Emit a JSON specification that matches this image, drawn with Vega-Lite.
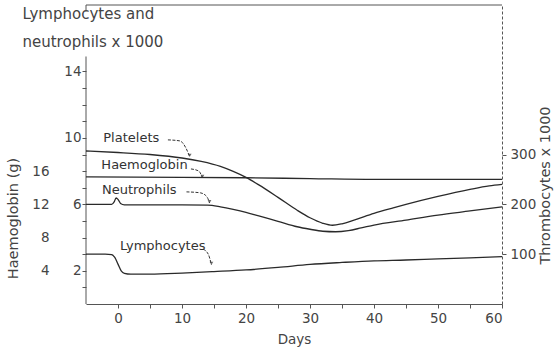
{
  "$schema": "https://vega.github.io/schema/vega-lite/v6.json",
  "width": 416,
  "height": 299,
  "autosize": "none",
  "padding": {"left": 86, "top": 5, "right": 56, "bottom": 47},
  "background": "white",
  "config": {
    "view": {"stroke": null},
    "font": "DejaVu Sans",
    "axis": {"labelFont": "DejaVu Sans", "titleFont": "DejaVu Sans", "labelColor": "#444", "titleColor": "#444", "titleFontWeight": "normal", "labelFontSize": 13.5, "titleFontSize": 14.5, "domainColor": "#555", "tickColor": "#555", "grid": false}
  },
  "datasets": {
    "cells": [
      {"series": "Neutrophils", "day": -5, "v": 6.0},
      {"series": "Neutrophils", "day": -2, "v": 6.0},
      {"series": "Neutrophils", "day": -1, "v": 6.0},
      {"series": "Neutrophils", "day": -0.6, "v": 6.15},
      {"series": "Neutrophils", "day": -0.3, "v": 6.38},
      {"series": "Neutrophils", "day": 0, "v": 6.3},
      {"series": "Neutrophils", "day": 0.4, "v": 6.05},
      {"series": "Neutrophils", "day": 1, "v": 5.97},
      {"series": "Neutrophils", "day": 5, "v": 5.97},
      {"series": "Neutrophils", "day": 10, "v": 5.97},
      {"series": "Neutrophils", "day": 14, "v": 5.95},
      {"series": "Neutrophils", "day": 16, "v": 5.85},
      {"series": "Neutrophils", "day": 18, "v": 5.7},
      {"series": "Neutrophils", "day": 20, "v": 5.52},
      {"series": "Neutrophils", "day": 22, "v": 5.3},
      {"series": "Neutrophils", "day": 25, "v": 4.98},
      {"series": "Neutrophils", "day": 28, "v": 4.65},
      {"series": "Neutrophils", "day": 30, "v": 4.5},
      {"series": "Neutrophils", "day": 32, "v": 4.38},
      {"series": "Neutrophils", "day": 34, "v": 4.35},
      {"series": "Neutrophils", "day": 36, "v": 4.42},
      {"series": "Neutrophils", "day": 38, "v": 4.58},
      {"series": "Neutrophils", "day": 40, "v": 4.75},
      {"series": "Neutrophils", "day": 45, "v": 5.05},
      {"series": "Neutrophils", "day": 50, "v": 5.35},
      {"series": "Neutrophils", "day": 55, "v": 5.6},
      {"series": "Neutrophils", "day": 60, "v": 5.85},
      {"series": "Lymphocytes", "day": -5, "v": 3.0},
      {"series": "Lymphocytes", "day": -2, "v": 3.0},
      {"series": "Lymphocytes", "day": -1, "v": 2.97},
      {"series": "Lymphocytes", "day": -0.5, "v": 2.8},
      {"series": "Lymphocytes", "day": 0, "v": 2.4},
      {"series": "Lymphocytes", "day": 0.5, "v": 2.0},
      {"series": "Lymphocytes", "day": 1, "v": 1.85},
      {"series": "Lymphocytes", "day": 2, "v": 1.8},
      {"series": "Lymphocytes", "day": 5, "v": 1.8},
      {"series": "Lymphocytes", "day": 10, "v": 1.86},
      {"series": "Lymphocytes", "day": 15, "v": 1.95},
      {"series": "Lymphocytes", "day": 20, "v": 2.05},
      {"series": "Lymphocytes", "day": 25, "v": 2.2},
      {"series": "Lymphocytes", "day": 30, "v": 2.38},
      {"series": "Lymphocytes", "day": 35, "v": 2.5},
      {"series": "Lymphocytes", "day": 40, "v": 2.6},
      {"series": "Lymphocytes", "day": 45, "v": 2.65},
      {"series": "Lymphocytes", "day": 50, "v": 2.72},
      {"series": "Lymphocytes", "day": 55, "v": 2.78},
      {"series": "Lymphocytes", "day": 60, "v": 2.85}
    ],
    "hgb": [
      {"day": -5, "g": 15.3},
      {"day": 10, "g": 15.25},
      {"day": 20, "g": 15.2},
      {"day": 30, "g": 15.1},
      {"day": 40, "g": 15.0},
      {"day": 50, "g": 15.0},
      {"day": 60, "g": 15.0}
    ],
    "plt": [
      {"day": -5, "k": 307},
      {"day": 0, "k": 304},
      {"day": 5, "k": 300},
      {"day": 10, "k": 293},
      {"day": 13, "k": 286},
      {"day": 16, "k": 276},
      {"day": 18, "k": 266},
      {"day": 20, "k": 254},
      {"day": 22, "k": 239},
      {"day": 25, "k": 214},
      {"day": 28, "k": 188},
      {"day": 30, "k": 173},
      {"day": 32, "k": 162},
      {"day": 33.5, "k": 158},
      {"day": 35, "k": 161},
      {"day": 37, "k": 169},
      {"day": 40, "k": 182},
      {"day": 43, "k": 193},
      {"day": 45, "k": 200},
      {"day": 50, "k": 216},
      {"day": 55, "k": 230},
      {"day": 58, "k": 237},
      {"day": 60, "k": 240}
    ],
    "labels": [
      {"day": -2.3, "v": 10.0, "text": "Platelets"},
      {"day": -2.6, "v": 8.37, "text": "Haemoglobin"},
      {"day": -2.5, "v": 6.87, "text": "Neutrophils"},
      {"day": 0.3, "v": 3.5, "text": "Lymphocytes"}
    ],
    "leaders": [
      {"id": "p", "o": 1, "day": 7.8, "v": 9.88},
      {"id": "p", "o": 2, "day": 9.66, "v": 9.82},
      {"id": "p", "o": 3, "day": 10.6, "v": 9.4},
      {"id": "p", "o": 4, "day": 11.2, "v": 8.86},
      {"id": "h", "o": 1, "day": 11.4, "v": 8.13},
      {"id": "h", "o": 2, "day": 12.6, "v": 8.01},
      {"id": "h", "o": 3, "day": 13.2, "v": 7.59},
      {"id": "n", "o": 1, "day": 10.7, "v": 6.75},
      {"id": "n", "o": 2, "day": 12.9, "v": 6.69},
      {"id": "n", "o": 3, "day": 13.9, "v": 6.45},
      {"id": "n", "o": 4, "day": 14.3, "v": 6.08},
      {"id": "l", "o": 1, "day": 13.3, "v": 3.3},
      {"id": "l", "o": 2, "day": 14.1, "v": 3.0},
      {"id": "l", "o": 3, "day": 14.6, "v": 2.36}
    ],
    "tips": [
      {"day": 11.2, "v": 8.95},
      {"day": 13.2, "v": 7.68},
      {"day": 14.3, "v": 6.17},
      {"day": 14.6, "v": 2.45}
    ],
    "frame": [
      {"day": -5, "v": 0, "day2": -5, "v2": 14.9},
      {"day": -5, "v": 18, "day2": 60, "v2": 18},
      {"day": -5, "v": 18, "day2": -5, "v2": 17.6}
    ]
  },
  "encoding": {
    "x": {
      "field": "day", "type": "quantitative",
      "scale": {"domain": [-5, 60], "nice": false, "zero": false},
      "axis": {
        "title": "Days", "titleFontSize": 13.5, "values": [0, 5, 10, 15, 20, 25, 30, 35, 40, 45, 50, 55, 60],
        "labelExpr": "datum.value % 10 == 0 ? datum.label : ''",
        "tickSize": 4, "labelPadding": 3, "titlePadding": 8, "domainColor": "#555"
      }
    }
  },
  "layer": [
    {
      "encoding": {
        "y": {
          "field": "v", "type": "quantitative",
          "scale": {"domain": [0, 18], "nice": false, "zero": false},
          "axis": {
            "orient": "left",
            "values": [1, 2, 3, 4, 5, 6, 7, 8, 9, 10, 11, 12, 13, 14],
            "labelExpr": "(datum.value == 2 || datum.value == 6 || datum.value == 10 || datum.value == 14) ? datum.label : ''",
            "domain": false, "tickSize": 4, "labelPadding": 1,
            "title": ["Lymphocytes and", "neutrophils x 1000"],
            "titleAngle": 0, "titleAlign": "left", "titleBaseline": "top",
            "titleX": -64, "titleY": 1, "titleFontSize": 15, "titleLineHeight": 28
          }
        }
      },
      "layer": [
        {"data": {"name": "frame"}, "mark": {"type": "rule", "color": "#555", "strokeWidth": 1},
         "encoding": {"x2": {"field": "day2"}, "y2": {"field": "v2"}}},
        {"data": {"name": "cells"}, "mark": {"type": "line", "color": "#2a2a2a", "strokeWidth": 1.3, "interpolate": "monotone"},
         "encoding": {"detail": {"field": "series"}}},
        {"data": {"name": "leaders"}, "mark": {"type": "line", "color": "#333", "strokeWidth": 1, "strokeDash": [3, 1.5], "interpolate": "monotone"},
         "encoding": {"detail": {"field": "id"}, "order": {"field": "o"}}},
        {"data": {"name": "tips"}, "mark": {"type": "point", "shape": "triangle-down", "filled": true, "size": 14, "color": "#333"}, "encoding": {}},
        {"data": {"name": "labels"}, "mark": {"type": "text", "align": "left", "baseline": "middle", "fontSize": 13, "color": "#333", "font": "DejaVu Sans"},
         "encoding": {"text": {"field": "text"}}}
      ]
    },
    {
      "data": {"name": "hgb"},
      "mark": {"type": "line", "color": "#2a2a2a", "strokeWidth": 1.3, "interpolate": "monotone"},
      "encoding": {
        "y": {
          "field": "g", "type": "quantitative",
          "scale": {"domain": [0, 36], "nice": false, "zero": false},
          "axis": {
            "orient": "left", "offset": 35, "values": [4, 8, 12, 16],
            "domain": false, "ticks": false, "labelPadding": 2,
            "title": "Haemoglobin (g)", "titleAngle": 270, "titleBaseline": "middle", "titleAlign": "center",
            "titleX": -38, "titleY": 213
          }
        }
      }
    },
    {
      "data": {"name": "plt"},
      "mark": {"type": "line", "color": "#2a2a2a", "strokeWidth": 1.3, "interpolate": "monotone"},
      "encoding": {
        "y": {
          "field": "k", "type": "quantitative",
          "scale": {"domain": [0, 600], "nice": false, "zero": false},
          "axis": {
            "orient": "right", "values": [100, 200, 300],
            "domainDash": [3, 2], "tickSize": 4, "labelPadding": 4,
            "title": "Thrombocytes x 1000", "titleAngle": 270, "titleBaseline": "middle", "titleAlign": "center",
            "titleX": 43, "titleY": 180
          }
        }
      }
    }
  ],
  "resolve": {"scale": {"y": "independent"}, "axis": {"y": "independent"}}
}
